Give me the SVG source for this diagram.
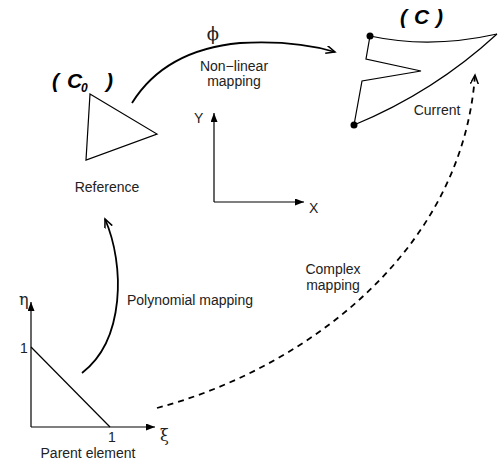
<svg xmlns="http://www.w3.org/2000/svg" width="498" height="464" viewBox="0 0 498 464">
<style>
.t{font-family:"Liberation Sans",Arial,sans-serif;font-size:14px;fill:#222}
.g{font-family:"DejaVu Serif","Liberation Serif",serif;fill:#222}
.b{font-family:"Liberation Sans",Arial,sans-serif;font-weight:bold;font-style:italic;fill:#000}
.ln{fill:none;stroke:#000;stroke-width:1.2}
.arc{fill:none;stroke:#000;stroke-width:1.8}
</style>
<defs>
<marker id="open" markerWidth="12" markerHeight="12" refX="9" refY="4" orient="auto" markerUnits="userSpaceOnUse">
<path d="M0,0 L9,4 L0,8" fill="none" stroke="#000" stroke-width="1.5"/>
</marker>
<marker id="fill" markerWidth="12" markerHeight="10" refX="9" refY="3.5" orient="auto" markerUnits="userSpaceOnUse">
<path d="M0,0 L9,3.5 L0,7 Z" fill="#000"/>
</marker>
</defs>
<rect width="498" height="464" fill="#fff"/>

<g id="reference">
<polygon class="ln" points="90,94 157,134 86,160"/>
<text class="b" font-size="21" x="52" y="88">(</text>
<text class="b" font-size="21" x="67" y="88">C</text>
<text class="b" font-size="12" x="81" y="92">0</text>
<text class="b" font-size="21" x="106" y="88">)</text>
<text class="t" x="107" y="192" text-anchor="middle">Reference</text>
</g>

<g id="current">
<path class="ln" d="M370,36 Q430,49 497,34"/>
<polyline class="ln" points="370,36 366,59 421,71 362,81 354,125"/>
<path class="ln" d="M354,125 Q434,92 497,34"/>
<circle cx="370" cy="36" r="3.5" fill="#000"/>
<circle cx="354" cy="125" r="3.5" fill="#000"/>
<text class="b" font-size="21" x="400" y="24">(</text>
<text class="b" font-size="21" x="414" y="24">C</text>
<text class="b" font-size="21" x="436" y="24">)</text>
<text class="t" x="437" y="115" text-anchor="middle">Current</text>
</g>

<g id="xy-axes">
<line class="ln" x1="214" y1="202" x2="214" y2="113" marker-end="url(#fill)"/>
<line class="ln" x1="214" y1="202" x2="304" y2="202" marker-end="url(#fill)"/>
<text class="t" font-size="15" x="194" y="123">Y</text>
<text class="t" font-size="15" x="309" y="213">X</text>
</g>

<g id="parent">
<line class="ln" x1="31" y1="427" x2="31" y2="302" marker-end="url(#fill)"/>
<line class="ln" x1="31" y1="427" x2="155" y2="427" marker-end="url(#fill)"/>
<line class="ln" x1="31" y1="347" x2="110" y2="427"/>
<text class="t" font-size="12" x="20" y="353">1</text>
<text class="t" font-size="12" x="108" y="442">1</text>
<text class="g" font-size="16" x="19" y="305">η</text>
<text class="g" font-size="16" x="160" y="441">ξ</text>
<text class="t" x="88" y="458" text-anchor="middle">Parent element</text>
</g>

<g id="connectors">
<path class="arc" d="M132,103 Q165,50 240,43 Q295,40 335,52" marker-end="url(#open)"/>
<path class="arc" d="M82,373 C125,340 125,265 105,219" marker-end="url(#open)"/>
<path class="arc" stroke-dasharray="6,5" d="M157,408 C300,370 462,255 475,75" marker-end="url(#open)"/>
<text class="g" font-size="18" x="213" y="40" text-anchor="middle">ϕ</text>
<text class="t" x="234" y="71" text-anchor="middle">Non−linear</text>
<text class="t" x="234" y="86" text-anchor="middle">mapping</text>
<text class="t" x="190" y="305" text-anchor="middle">Polynomial mapping</text>
<text class="t" x="333" y="274" text-anchor="middle">Complex</text>
<text class="t" x="333" y="290" text-anchor="middle">mapping</text>
</g>
</svg>
